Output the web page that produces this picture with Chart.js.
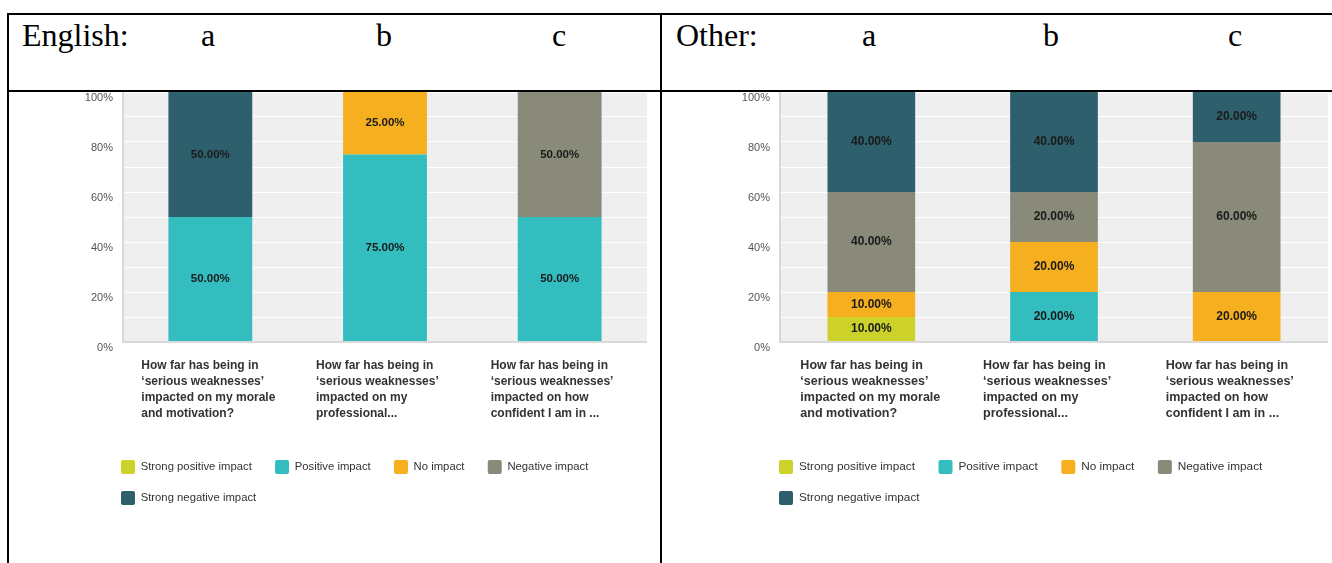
<!DOCTYPE html>
<html>
<head>
<meta charset="utf-8">
<title>Impact of 'serious weaknesses'</title>
<script src="https://cdn.jsdelivr.net/npm/chart.js@4.4.1/dist/chart.umd.min.js"></script>
<style>
  body { margin: 0; background: #fff; width: 1332px; height: 563px; position: relative; overflow: hidden; }
  .rule { position: absolute; background: #000; }
  .head { position: absolute; top: 19px; font: 32px/1 "Liberation Serif", "Times New Roman", serif; color: #000; white-space: nowrap; }
  .col { transform: translateX(-50%); }
  canvas { position: absolute; top: 92px; }
</style>
</head>
<body>
<!-- table borders -->
<div class="rule" style="left:7px; top:13px; width:1325px; height:2px"></div>
<div class="rule" style="left:7px; top:90px; width:1325px; height:2px"></div>
<div class="rule" style="left:7px; top:13px; width:2px; height:550px"></div>
<div class="rule" style="left:660px; top:13px; width:2px; height:550px"></div>

<span class="head" style="left:22px">English:</span>
<span class="head col" style="left:208px">a</span>
<span class="head col" style="left:384px">b</span>
<span class="head col" style="left:559px">c</span>
<span class="head" style="left:676px">Other:</span>
<span class="head col" style="left:869px">a</span>
<span class="head col" style="left:1051px">b</span>
<span class="head col" style="left:1235px">c</span>

<canvas id="englishChart" width="600" height="423" style="left:60px"></canvas>
<canvas id="otherChart" width="632" height="423" style="left:700px"></canvas>

<script>
const categories = [
  ['How far has being in', '\u2018serious weaknesses\u2019', 'impacted on my morale', 'and motivation?'],
  ['How far has being in', '\u2018serious weaknesses\u2019', 'impacted on my', 'professional...'],
  ['How far has being in', '\u2018serious weaknesses\u2019', 'impacted on how', 'confident I am in ...']
];
const seriesNames = ['Strong positive impact', 'Positive impact', 'No impact', 'Negative impact', 'Strong negative impact'];

// percentages per question (a, b, c)
const englishStrongPositive = [0, 0, 0];
const englishPositive = [50, 75, 50];
const englishNoImpact = [0, 25, 0];
const englishNegative = [0, 0, 50];
const englishStrongNegative = [50, 0, 0];

const otherStrongPositive = [10, 0, 0];
const otherPositive = [0, 20, 0];
const otherNoImpact = [10, 20, 20];
const otherNegative = [40, 20, 60];
const otherStrongNegative = [40, 40, 20];

const yLabelStep = 20;

const seriesColors = ['#cdd22a', '#33bdbf', '#f6af1f', '#898a79', '#2e5f6d'];
const FONT = '"Liberation Sans", Arial, sans-serif';
Chart.defaults.font.family = FONT;

// grey plot area behind the grid
const plotBackground = {
    id: 'plotBackground',
    beforeDraw(chart) {
        const { ctx, chartArea: a } = chart;
        ctx.save();
        ctx.fillStyle = '#efefef';
        ctx.fillRect(a.left, a.top, a.right - a.left, a.bottom - a.top);
        ctx.restore();
    }
};

// value printed in the middle of each stacked segment
const segmentLabels = {
    id: 'segmentLabels',
    afterDatasetsDraw(chart, args, opts) {
        const ctx = chart.ctx;
        ctx.save();
        ctx.font = 'bold ' + opts.size + 'px ' + FONT;
        ctx.fillStyle = '#1a1a1a';
        ctx.textAlign = 'center';
        ctx.textBaseline = 'middle';
        chart.data.datasets.forEach((ds, i) => {
            chart.getDatasetMeta(i).data.forEach((bar, j) => {
                const v = ds.data[j];
                if (!v) return;
                ctx.fillText(v.toFixed(2) + '%', bar.x, (bar.y + bar.base) / 2);
            });
        });
        ctx.restore();
    }
};

// move the legend right so it starts under the value axis, not at the canvas edge
const legendNudge = {
    id: 'legendNudge',
    afterLayout(chart, args, opts) {
        chart.legend.left += opts.x;
        chart.legend.right += opts.x;
    }
};

function drawChart(canvasId, seriesValues, look) {
    const datasets = seriesNames.map((name, i) => ({
        label: name,
        data: seriesValues[i],
        backgroundColor: seriesColors[i],
        borderWidth: 0,
        barPercentage: 0.48,
        categoryPercentage: 1
    }));

    return new Chart(document.getElementById(canvasId), {
        type: 'bar',
        data: { labels: categories, datasets: datasets },
        options: {
            responsive: false,
            animation: false,
            layout: { padding: { left: look.padLeft, right: look.padRight, top: 0, bottom: 0 } },
            scales: {
                x: {
                    stacked: true,
                    grid: { display: false, drawTicks: false },
                    border: { display: false },
                    ticks: {
                        align: 'start',
                        labelOffset: look.labelShift,
                        padding: 16,
                        maxRotation: 0,
                        minRotation: 0,
                        autoSkip: false,
                        color: '#333',
                        font: { size: 12 * look.scale, weight: 'bold', lineHeight: 16 / (12 * look.scale) }
                    },
                    afterFit(scale) {
                        scale.height = 101;
                        scale.paddingLeft = 0;
                        scale.paddingRight = 0;
                    }
                },
                y: {
                    stacked: true,
                    min: 0,
                    max: 100,
                    grid: {
                        drawTicks: false,
                        color: c => c.tick.value === 0 ? '#d9d9d9' : '#ffffff',
                        lineWidth: c => c.tick.value === 0 ? 2 : 1
                    },
                    border: { color: '#d9d9d9', width: 2 },
                    ticks: {
                        stepSize: 10,
                        padding: 10,
                        labelOffset: 6,
                        color: '#555',
                        font: { size: 11 },
                        callback: v => v % yLabelStep === 0 ? v + '%' : ''
                    },
                    afterFit(scale) {
                        scale.width = look.axisWidth;
                        scale.paddingTop = 0;
                        scale.paddingBottom = 0;
                    }
                }
            },
            plugins: {
                tooltip: { enabled: false },
                segmentLabels: { size: 11.5 * look.scale },
                legendNudge: { x: look.legendShift },
                legend: {
                    position: 'bottom',
                    align: 'start',
                    labels: {
                        boxWidth: 14,
                        boxHeight: 14,
                        padding: 17,
                        useBorderRadius: true,
                        borderRadius: 2,
                        color: '#333',
                        font: { size: 11.3 * look.scale },
                        generateLabels(chart) {
                            const items = Chart.defaults.plugins.legend.labels.generateLabels(chart);
                            items.forEach(item => { item.text += '  '; });
                            return items;
                        }
                    }
                }
            }
        },
        plugins: [plotBackground, segmentLabels, legendNudge]
    });
}

drawChart('englishChart',
    [englishStrongPositive, englishPositive, englishNoImpact, englishNegative, englishStrongNegative],
    { padLeft: 20, padRight: 13, axisWidth: 43, legendShift: 24, labelShift: -69, scale: 1 });

drawChart('otherChart',
    [otherStrongPositive, otherPositive, otherNoImpact, otherNegative, otherStrongNegative],
    { padLeft: 38, padRight: 4, axisWidth: 42, legendShift: 24, labelShift: -71, scale: 1.045 });
</script>
</body>
</html>
